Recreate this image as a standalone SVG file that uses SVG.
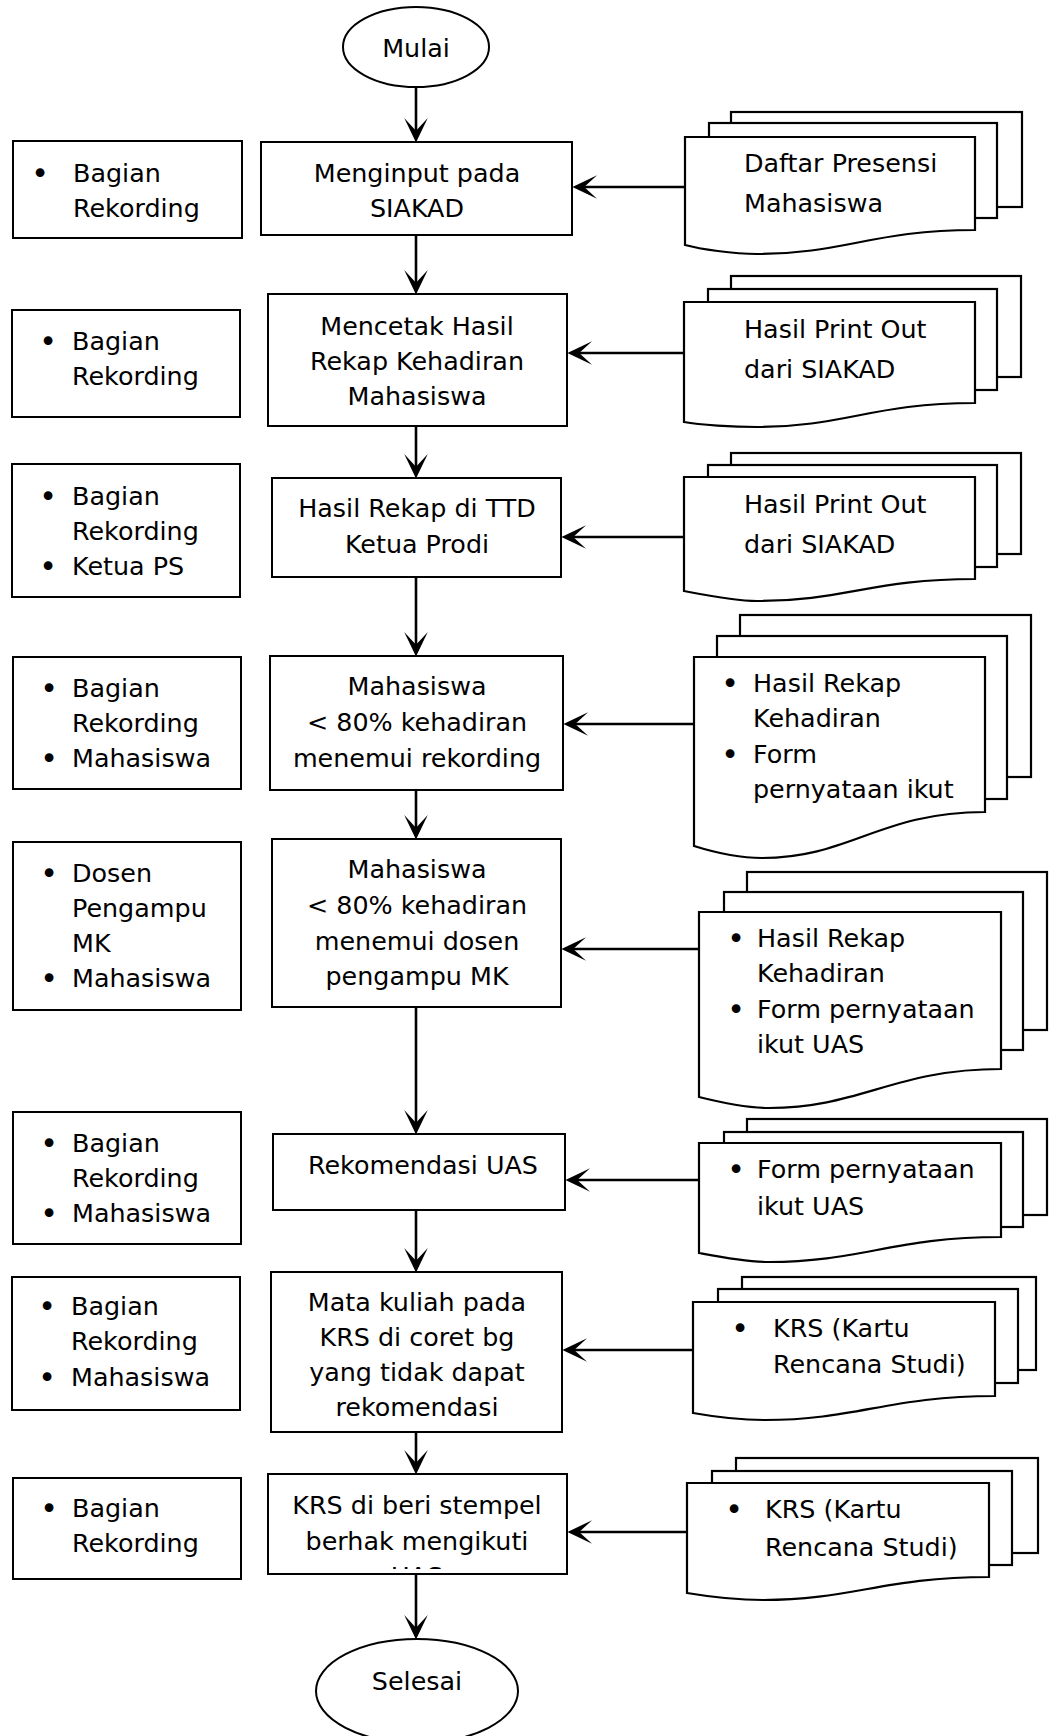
<svg xmlns="http://www.w3.org/2000/svg" width="1049" height="1736" viewBox="0 0 1049 1736">
<style>
text{font-family:"DejaVu Sans","Verdana",sans-serif;font-size:25.4px;fill:#000}
.c{text-anchor:middle}
.b{text-anchor:middle;font-size:30px}
.box{fill:#fff;stroke:#000;stroke-width:2}
.pg{fill:#fff;stroke:#000;stroke-width:2.2}
.cn{stroke:#000;stroke-width:2.6;fill:none}
</style>
<defs>
<marker id="ah" markerUnits="userSpaceOnUse" markerWidth="30" markerHeight="30" viewBox="-26 -13 28 26" refX="-8" refY="0" orient="auto">
<path d="M0,0 L-23,-11 L-11,0 L-23,11 Z" fill="#000"/>
</marker>
<clipPath id="clipB8"><rect x="268" y="1474" width="299" height="95"/></clipPath>
</defs>

<g id="connectors">
<line class="cn" x1="416" y1="87" x2="416" y2="134" marker-end="url(#ah)"/>
<line class="cn" x1="416" y1="236" x2="416" y2="286" marker-end="url(#ah)"/>
<line class="cn" x1="416" y1="427" x2="416" y2="470" marker-end="url(#ah)"/>
<line class="cn" x1="416" y1="578" x2="416" y2="648" marker-end="url(#ah)"/>
<line class="cn" x1="416" y1="791" x2="416" y2="831" marker-end="url(#ah)"/>
<line class="cn" x1="416" y1="1008" x2="416" y2="1126" marker-end="url(#ah)"/>
<line class="cn" x1="416" y1="1211" x2="416" y2="1264" marker-end="url(#ah)"/>
<line class="cn" x1="416" y1="1433" x2="416" y2="1466" marker-end="url(#ah)"/>
<line class="cn" x1="416" y1="1575" x2="416" y2="1631" marker-end="url(#ah)"/>
<line class="cn" x1="685" y1="187" x2="581" y2="187" marker-end="url(#ah)"/>
<line class="cn" x1="684" y1="353" x2="576" y2="353" marker-end="url(#ah)"/>
<line class="cn" x1="684" y1="537" x2="570" y2="537" marker-end="url(#ah)"/>
<line class="cn" x1="694" y1="724" x2="572" y2="724" marker-end="url(#ah)"/>
<line class="cn" x1="699" y1="949" x2="570" y2="949" marker-end="url(#ah)"/>
<line class="cn" x1="699" y1="1180" x2="574" y2="1180" marker-end="url(#ah)"/>
<line class="cn" x1="693" y1="1350" x2="571" y2="1350" marker-end="url(#ah)"/>
<line class="cn" x1="687" y1="1532" x2="576" y2="1532" marker-end="url(#ah)"/>
</g>

<g id="n-start">
<ellipse class="box" cx="416" cy="47" rx="73" ry="40"/>
<text class="c" x="416" y="57">Mulai</text>
</g>

<g id="n-b1">
<rect class="box" x="261" y="142" width="311" height="93"/>
<text class="c" x="417" y="182">Menginput pada</text>
<text class="c" x="417" y="217">SIAKAD</text>
</g>
<g id="n-b2">
<rect class="box" x="268" y="294" width="299" height="132"/>
<text class="c" x="417" y="335">Mencetak Hasil</text>
<text class="c" x="417" y="370">Rekap Kehadiran</text>
<text class="c" x="417" y="405">Mahasiswa</text>
</g>
<g id="n-b3">
<rect class="box" x="272" y="478" width="289" height="99"/>
<text class="c" x="417" y="517">Hasil Rekap di TTD</text>
<text class="c" x="417" y="553">Ketua Prodi</text>
</g>
<g id="n-b4">
<rect class="box" x="270" y="656" width="293" height="134"/>
<text class="c" x="417" y="695">Mahasiswa</text>
<text class="c" x="417" y="731">&lt; 80% kehadiran</text>
<text class="c" x="417" y="767">menemui rekording</text>
</g>
<g id="n-b5">
<rect class="box" x="272" y="839" width="289" height="168"/>
<text class="c" x="417" y="878">Mahasiswa</text>
<text class="c" x="417" y="914">&lt; 80% kehadiran</text>
<text class="c" x="417" y="950">menemui dosen</text>
<text class="c" x="417" y="985">pengampu MK</text>
</g>
<g id="n-b6">
<rect class="box" x="273" y="1134" width="292" height="76"/>
<text class="c" x="423" y="1174">Rekomendasi UAS</text>
</g>
<g id="n-b7">
<rect class="box" x="271" y="1272" width="291" height="160"/>
<text class="c" x="417" y="1311">Mata kuliah pada</text>
<text class="c" x="417" y="1346">KRS di coret bg</text>
<text class="c" x="417" y="1381">yang tidak dapat</text>
<text class="c" x="417" y="1416">rekomendasi</text>
</g>
<g id="n-b8">
<rect class="box" x="268" y="1474" width="299" height="100"/>
<text class="c" x="417" y="1514">KRS di beri stempel</text>
<text class="c" x="417" y="1550">berhak mengikuti</text>
<text class="c" x="417" y="1585" clip-path="url(#clipB8)">UAS</text>
</g>

<g id="n-end">
<ellipse class="box" cx="417" cy="1691" rx="101" ry="52"/>
<text class="c" x="417" y="1690">Selesai</text>
</g>

<g id="n-l1">
<rect class="box" x="13" y="141" width="229" height="97"/>
<text class="b" x="40" y="184">•</text>
<text x="73" y="182">Bagian</text>
<text x="73" y="217">Rekording</text>
</g>
<g id="n-l2">
<rect class="box" x="12" y="310" width="228" height="107"/>
<text class="b" x="48" y="352">•</text>
<text x="72" y="350">Bagian</text>
<text x="72" y="385">Rekording</text>
</g>
<g id="n-l3">
<rect class="box" x="12" y="464" width="228" height="133"/>
<text class="b" x="48" y="507">•</text>
<text x="72" y="505">Bagian</text>
<text x="72" y="540">Rekording</text>
<text class="b" x="48" y="577">•</text>
<text x="72" y="575">Ketua PS</text>
</g>
<g id="n-l4">
<rect class="box" x="13" y="657" width="228" height="132"/>
<text class="b" x="49" y="699">•</text>
<text x="72" y="697">Bagian</text>
<text x="72" y="732">Rekording</text>
<text class="b" x="49" y="769">•</text>
<text x="72" y="767">Mahasiswa</text>
</g>
<g id="n-l5">
<rect class="box" x="13" y="842" width="228" height="168"/>
<text class="b" x="49" y="884">•</text>
<text x="72" y="882">Dosen</text>
<text x="72" y="917">Pengampu</text>
<text x="72" y="952">MK</text>
<text class="b" x="49" y="989">•</text>
<text x="72" y="987">Mahasiswa</text>
</g>
<g id="n-l6">
<rect class="box" x="13" y="1112" width="228" height="132"/>
<text class="b" x="49" y="1154">•</text>
<text x="72" y="1152">Bagian</text>
<text x="72" y="1187">Rekording</text>
<text class="b" x="49" y="1224">•</text>
<text x="72" y="1222">Mahasiswa</text>
</g>
<g id="n-l7">
<rect class="box" x="12" y="1277" width="228" height="133"/>
<text class="b" x="47" y="1317">•</text>
<text x="71" y="1315">Bagian</text>
<text x="71" y="1350">Rekording</text>
<text class="b" x="47" y="1388">•</text>
<text x="71" y="1386">Mahasiswa</text>
</g>
<g id="n-l8">
<rect class="box" x="13" y="1478" width="228" height="101"/>
<text class="b" x="49" y="1519">•</text>
<text x="72" y="1517">Bagian</text>
<text x="72" y="1552">Rekording</text>
</g>

<g id="n-d1">
<rect class="pg" x="731" y="112" width="291" height="95"/>
<rect class="pg" x="709" y="123" width="288" height="95"/>
<path class="pg" d="M685,137 H975 V230 C873,230 844,254 757,254 C733,254 700,249 685,245 Z"/>
<text x="744" y="172">Daftar Presensi</text>
<text x="744" y="212">Mahasiswa</text>
</g>
<g id="n-d2">
<rect class="pg" x="731" y="276" width="290" height="101"/>
<rect class="pg" x="708" y="289" width="289" height="101"/>
<path class="pg" d="M684,302 H975 V403 C873,403 844,427 757,427 C733,427 700,425 684,422 Z"/>
<text x="744" y="338">Hasil Print Out</text>
<text x="744" y="378">dari SIAKAD</text>
</g>
<g id="n-d3">
<rect class="pg" x="731" y="453" width="290" height="101"/>
<rect class="pg" x="708" y="465" width="289" height="102"/>
<path class="pg" d="M684,477 H975 V579 C873,579 844,601 757,601 C733,601 700,594 684,591 Z"/>
<text x="744" y="513">Hasil Print Out</text>
<text x="744" y="553">dari SIAKAD</text>
</g>
<g id="n-d4">
<rect class="pg" x="740" y="615" width="291" height="162"/>
<rect class="pg" x="717" y="636" width="290" height="163"/>
<path class="pg" d="M694,657 H985 V812 C880,812 850,858 762,858 C738,858 710,851 694,846 Z"/>
<text class="b" x="730" y="694">•</text>
<text x="753" y="692">Hasil Rekap</text>
<text x="753" y="727">Kehadiran</text>
<text class="b" x="730" y="765">•</text>
<text x="753" y="763">Form</text>
<text x="753" y="798">pernyataan ikut</text>
</g>
<g id="n-d5">
<rect class="pg" x="747" y="872" width="300" height="158"/>
<rect class="pg" x="724" y="892" width="299" height="158"/>
<path class="pg" d="M699,912 H1001 V1069 C895,1069 860,1108 769,1108 C745,1108 715,1101 699,1097 Z"/>
<text class="b" x="736" y="949">•</text>
<text x="757" y="947">Hasil Rekap</text>
<text x="757" y="982">Kehadiran</text>
<text class="b" x="736" y="1020">•</text>
<text x="757" y="1018">Form pernyataan</text>
<text x="757" y="1053">ikut UAS</text>
</g>
<g id="n-d6">
<rect class="pg" x="747" y="1119" width="300" height="96"/>
<rect class="pg" x="724" y="1132" width="299" height="95"/>
<path class="pg" d="M699,1143 H1001 V1237 C895,1237 860,1262 769,1262 C745,1262 715,1256 699,1253 Z"/>
<text class="b" x="736" y="1180">•</text>
<text x="757" y="1178">Form pernyataan</text>
<text x="757" y="1215">ikut UAS</text>
</g>
<g id="n-d7">
<rect class="pg" x="742" y="1277" width="294" height="93"/>
<rect class="pg" x="718" y="1289" width="300" height="94"/>
<path class="pg" d="M693,1302 H995 V1396 C890,1396 856,1420 765,1420 C741,1420 710,1416 693,1413 Z"/>
<text class="b" x="740" y="1339">•</text>
<text x="773" y="1337">KRS (Kartu</text>
<text x="773" y="1373">Rencana Studi)</text>
</g>
<g id="n-d8">
<rect class="pg" x="736" y="1458" width="302" height="95"/>
<rect class="pg" x="712" y="1471" width="300" height="94"/>
<path class="pg" d="M687,1483 H989 V1577 C884,1577 852,1600 763,1600 C739,1600 705,1596 687,1593 Z"/>
<text class="b" x="734" y="1520">•</text>
<text x="765" y="1518">KRS (Kartu</text>
<text x="765" y="1556">Rencana Studi)</text>
</g>
</svg>
